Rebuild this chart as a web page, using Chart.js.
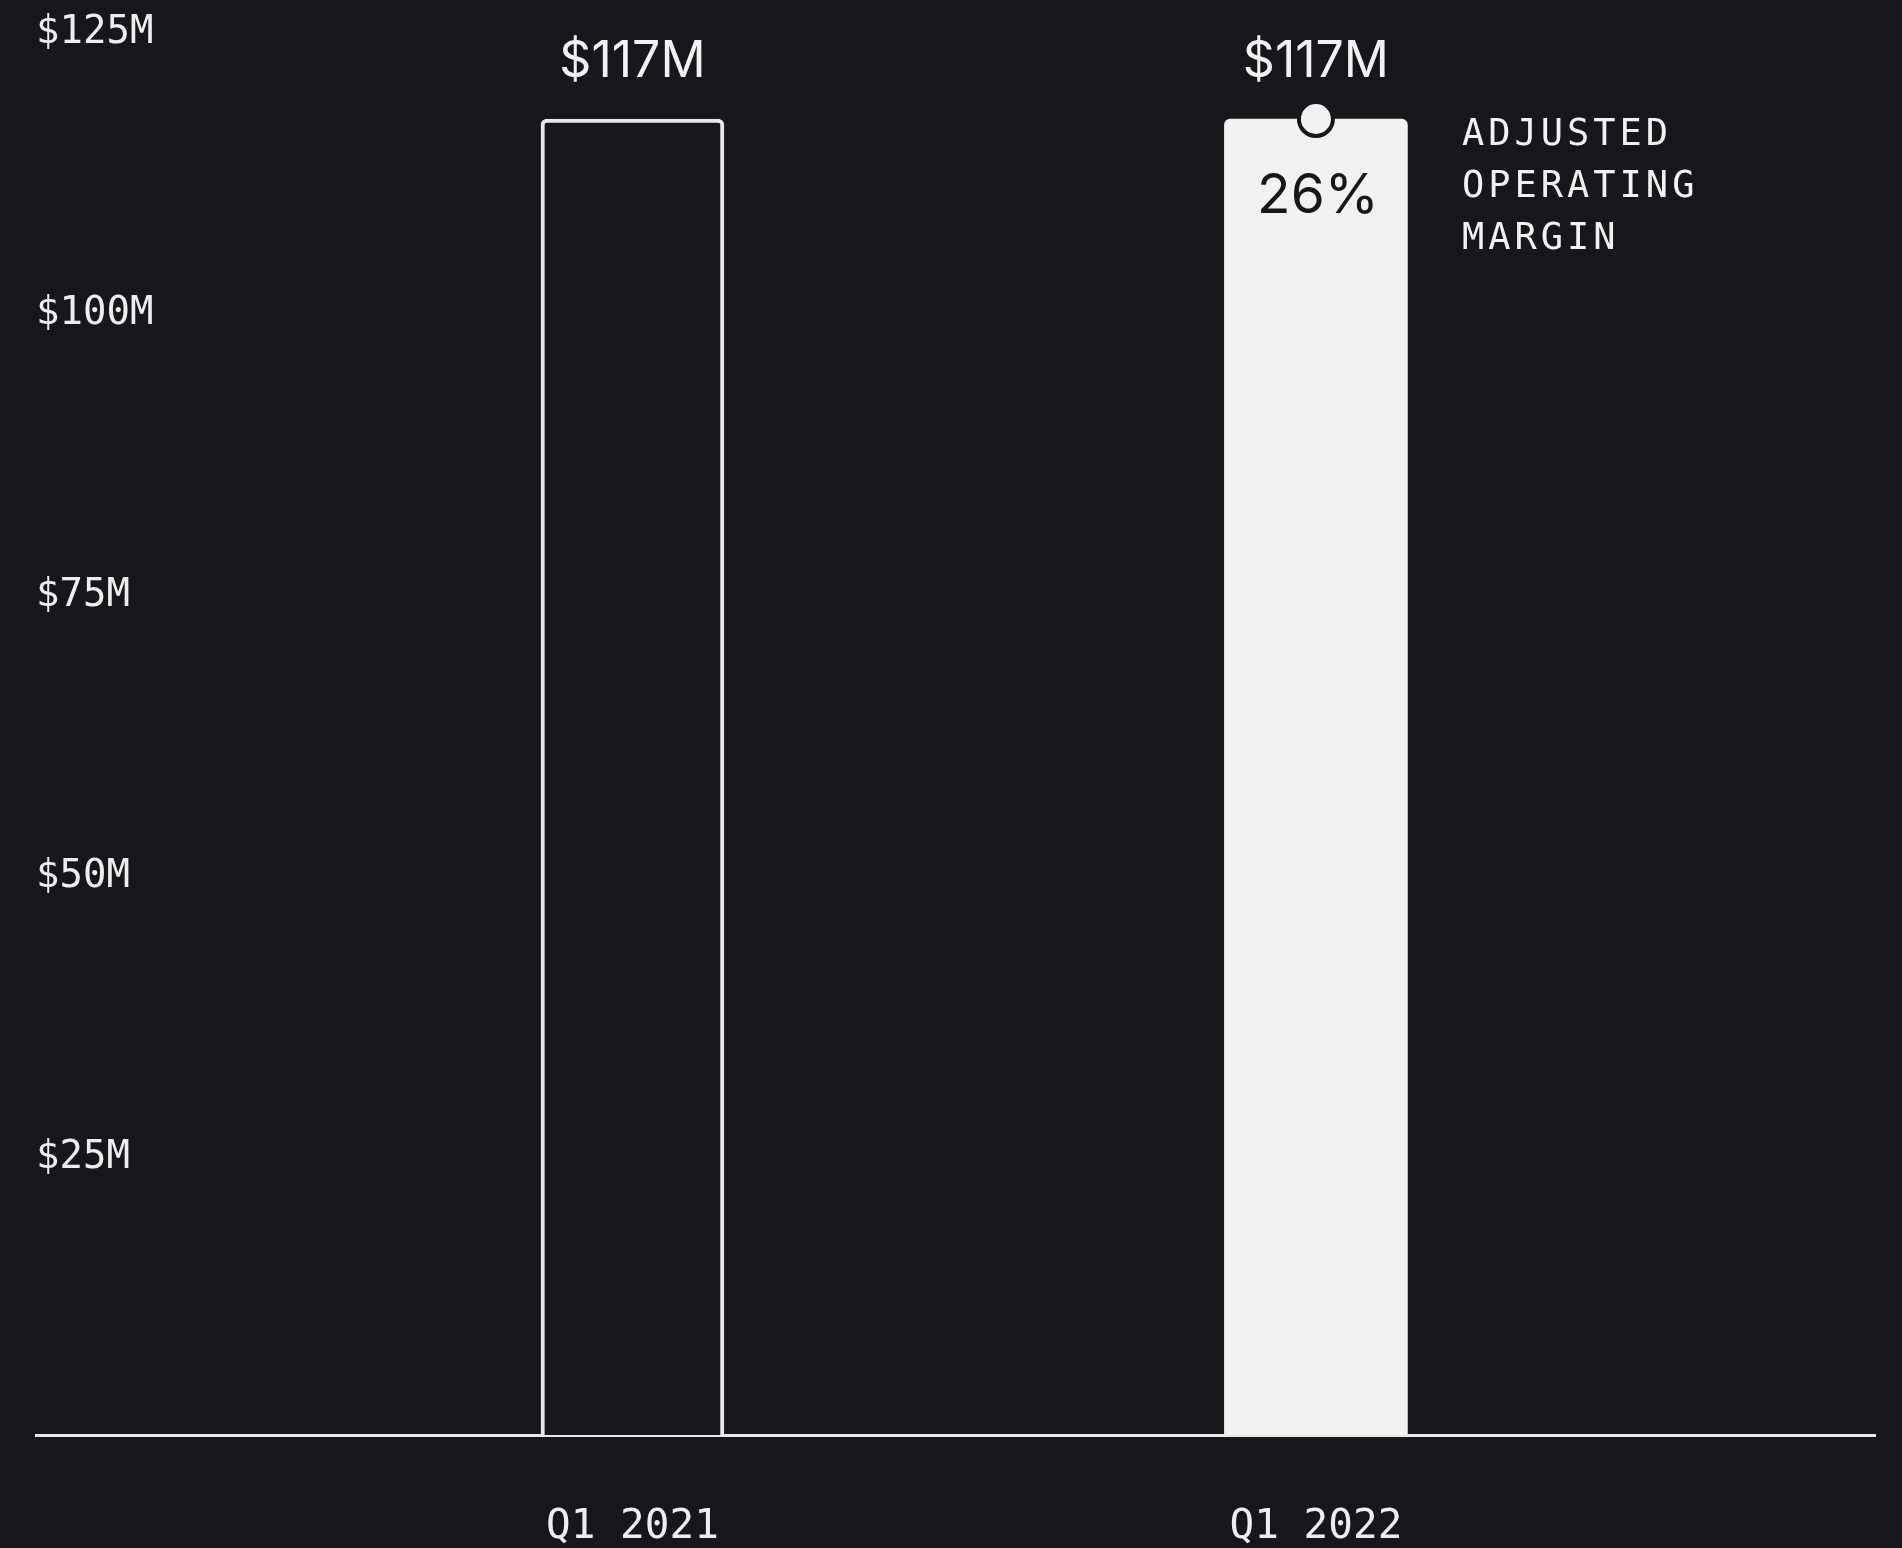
<!DOCTYPE html>
<html>
<head>
<meta charset="utf-8">
<script src="https://cdn.jsdelivr.net/npm/chart.js@4/dist/chart.umd.min.js"></script>
<style>
    html, body { margin: 0; padding: 0; background: #16171b; }
    #wrap { position: relative; width: 1902px; height: 1548px; }
</style>
</head>
<body>
<div id="wrap"><canvas id="chart"></canvas></div>
<script>
"use strict";

// chart data
const categories = ["Q1 2021", "Q1 2022"];
const revenue = [117, 117];            // $M
const marginPct = [null, 26];          // adjusted operating margin, %
const yTicks = [0, 25, 50, 75, 100, 125];
const marginNote = ["ADJUSTED", "OPERATING", "MARGIN"];

const BG = "#16171b";
const LIGHT = "#f2f2f2";
const MONO = "'DejaVu Sans Mono', 'Liberation Mono', monospace";
const SANS = "Inter, 'Noto Sans', sans-serif";

// labels on top of / inside the bars, plus the margin note
const barLabels = {
    id: "barLabels",
    afterDatasetsDraw(chart) {
        const ctx = chart.ctx;
        const bars = chart.getDatasetMeta(0).data;
        ctx.save();
        ctx.textAlign = "center";
        ctx.textBaseline = "middle";
        bars.forEach(function(bar, i) {
            ctx.fillStyle = LIGHT;
            ctx.font = "400 50px " + SANS;
            ctx.fillText("$" + revenue[i] + "M", bar.x, bar.y - 57);
            if (marginPct[i] != null) {
                ctx.fillStyle = BG;
                ctx.font = "400 55px " + SANS;
                ctx.fillText(marginPct[i] + "%", bar.x + 2, bar.y + 77);
                ctx.fillStyle = LIGHT;
                ctx.font = "37px " + MONO;
                ctx.textAlign = "left";
                ctx.letterSpacing = "4px";
                marginNote.forEach(function(line, k) {
                    ctx.fillText(line, bar.x + 146, bar.y + 16 + k * 52);
                });
                ctx.letterSpacing = "0px";
                ctx.textAlign = "center";
            }
        });
        ctx.restore();
    }
};

new Chart(document.getElementById("chart"), {
    type: "bar",
    data: {
        datasets: [ {
            label: "Revenue",
            data: revenue.map(function(v, i) { return { x: i, y: v }; }),
            backgroundColor: [ BG, LIGHT ],
            borderColor: [ "#e8e8e8", LIGHT ],
            borderWidth: [ 4, 0 ],
            borderSkipped: "bottom",
            borderRadius: { topLeft: 6, topRight: 6, bottomLeft: 0, bottomRight: 0 },
            barThickness: 183,
            order: 1
        }, {
            type: "scatter",
            label: "Margin",
            data: marginPct.map(function(v, i) { return v == null ? null : { x: i, y: revenue[i] }; }).filter(Boolean),
            pointRadius: 17,
            pointBackgroundColor: LIGHT,
            pointBorderColor: BG,
            pointBorderWidth: 4,
            order: 0
        } ]
    },
    options: {
        responsive: true,
        maintainAspectRatio: false,
        animation: false,
        events: [],
        layout: {
            padding: { left: 36, right: 27, top: 29, bottom: 0 }
        },
        plugins: {
            legend: { display: false },
            tooltip: { enabled: false }
        },
        scales: {
            x: {
                type: "linear",
                offset: false,
                min: -0.8727,
                max: 1.818,
                grid: { display: false, drawTicks: false },
                border: { display: true, color: "#e8e8e8", width: 3 },
                afterBuildTicks: function(scale) {
                    scale.ticks = categories.map(function(c, i) { return { value: i }; });
                },
                afterFit: function(scale) { scale.height = 113; },
                ticks: {
                    color: "#eeeeee",
                    font: { family: MONO, size: 41 },
                    padding: 68,
                    maxRotation: 0,
                    autoSkip: false,
                    callback: function(v) { return categories[v]; }
                }
            },
            y: {
                min: 0,
                max: 125,
                grid: { display: false, drawTicks: false },
                border: { display: false },
                afterBuildTicks: function(scale) {
                    scale.ticks = yTicks.map(function(v) { return { value: v }; });
                },
                afterFit: function(scale) { scale.width = 0; },
                ticks: {
                    mirror: true,
                    padding: 0,
                    labelOffset: 4,
                    color: "#eeeeee",
                    font: { family: MONO, size: 39 },
                    callback: function(v) { return v === 0 ? "" : "$" + v + "M"; }
                }
            }
        }
    },
    plugins: [ barLabels ]
});
</script>
</body>
</html>
